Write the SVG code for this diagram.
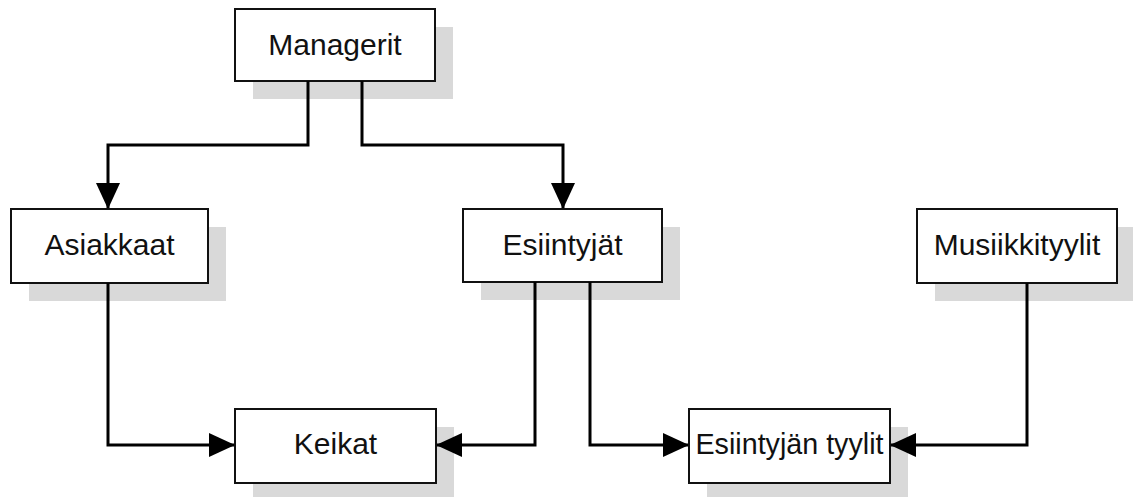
<svg xmlns="http://www.w3.org/2000/svg" width="1133" height="497" viewBox="0 0 1133 497">
<style>
.sh{fill:#d9d9d9}
.bx{fill:#fff;stroke:#111;stroke-width:2}
.tx{font-family:"Liberation Sans",Arial,sans-serif;font-size:30px;fill:#111;text-anchor:middle}
.ln{fill:none;stroke:#000;stroke-width:3;marker-end:url(#ah)}
</style>
<defs>
<marker id="ah" markerUnits="userSpaceOnUse" markerWidth="26" markerHeight="24" refX="25" refY="12" orient="auto">
<path d="M0,0 L26,12 L0,24 Z" fill="#000"/>
</marker>
</defs>
<rect width="1133" height="497" fill="#fff"/>
<g id="managerit">
<rect class="sh" x="253" y="27" width="200" height="72"/>
<rect class="bx" x="235" y="9" width="200" height="72"/>
<text class="tx" x="335" y="55">Managerit</text>
</g>
<g id="asiakkaat">
<rect class="sh" x="29" y="227" width="197" height="74"/>
<rect class="bx" x="11" y="209" width="197" height="74"/>
<text class="tx" x="109.5" y="255">Asiakkaat</text>
</g>
<g id="esiintyjat">
<rect class="sh" x="481" y="227" width="199" height="73"/>
<rect class="bx" x="463" y="209" width="199" height="73"/>
<text class="tx" x="562.5" y="255">Esiintyjät</text>
</g>
<g id="musiikkityylit">
<rect class="sh" x="935" y="227" width="200" height="74"/>
<rect class="bx" x="917" y="209" width="200" height="74"/>
<text class="tx" x="1017" y="255">Musiikkityylit</text>
</g>
<g id="keikat">
<rect class="sh" x="253" y="427" width="201" height="74"/>
<rect class="bx" x="235" y="409" width="201" height="74"/>
<text class="tx" x="335.5" y="454">Keikat</text>
</g>
<g id="esiintyjan-tyylit">
<rect class="sh" x="707" y="427" width="201" height="74"/>
<rect class="bx" x="689" y="409" width="201" height="74"/>
<text class="tx" x="789.5" y="454" textLength="188" lengthAdjust="spacingAndGlyphs">Esiintyjän tyylit</text>
</g>
<g id="connectors">
<path class="ln" d="M308,81 V145 H108 V208"/>
<path class="ln" d="M362,81 V145 H563 V208"/>
<path class="ln" d="M108,283 V445 H234"/>
<path class="ln" d="M535,282 V445 H437"/>
<path class="ln" d="M590,282 V445 H688"/>
<path class="ln" d="M1027,283 V445 H891"/>
</g>
</svg>
